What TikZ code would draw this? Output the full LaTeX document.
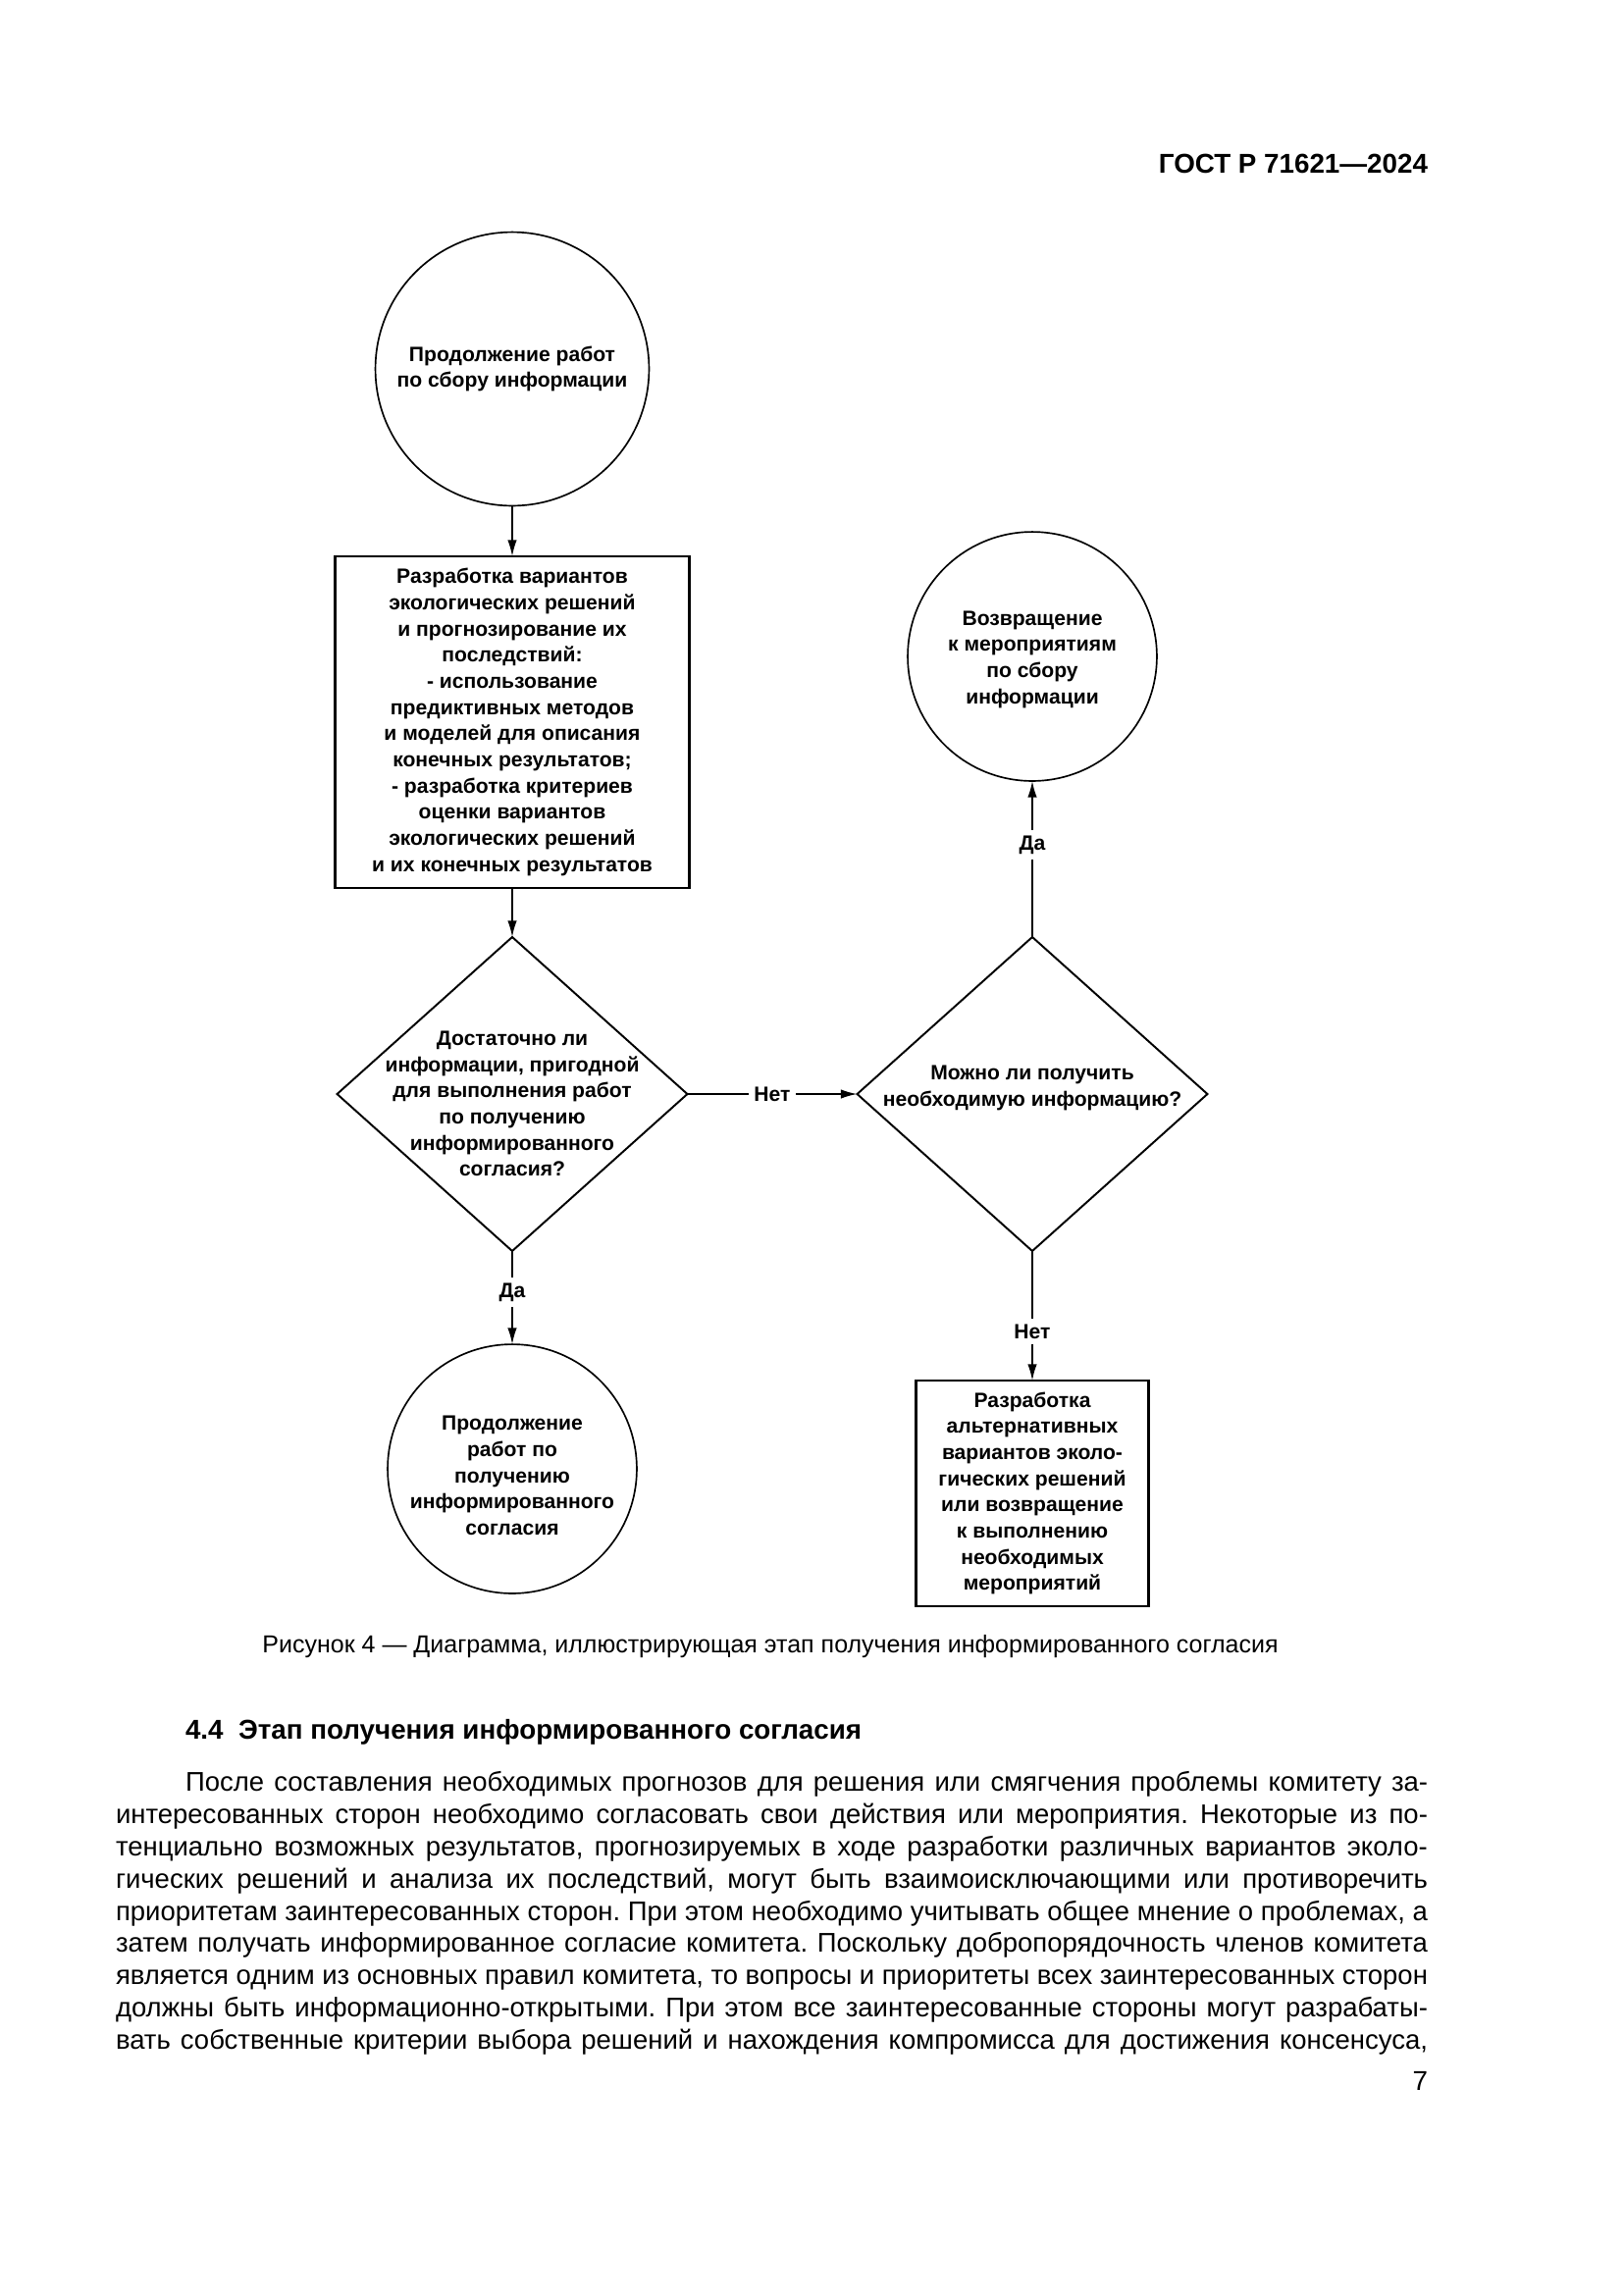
\documentclass[tikz,border=0pt]{standalone}
\usepackage{fontspec}
\setmainfont{Liberation Sans}
\usetikzlibrary{shapes.geometric,arrows.meta}
\frenchspacing
\begin{document}
\begin{tikzpicture}[x=0.36pt,y=-0.36pt,
 every node/.style={inner sep=0pt,outer sep=0pt},
 dfont/.style={font=\fontsize{7.6}{9.6}\selectfont\bfseries},
 roundnode/.style={circle,draw,line width=0.6pt,dfont,align=center,inner sep=1pt},
 boxnode/.style={rectangle,draw,line width=0.9pt,dfont,align=center},
 decnode/.style={diamond,draw,line width=0.7pt,minimum width=128.5pt,minimum height=115.2pt},
 dtext/.style={dfont,align=center},
 arr/.style={line width=0.6pt,-{Latex[length=6pt,width=3.4pt]}},
 lbl/.style={dfont,fill=white,inner sep=2pt},
 bodyline/.style={anchor=base west,font=\fontsize{9.9}{12}\selectfont},
]
\useasboundingbox[fill=white] (0,0) rectangle (1654,2339);

\node[anchor=east,font=\fontsize{10}{12}\selectfont\bfseries] (hdr) at (1455,167) {ГОСТ Р 71621—2024};

% nodes
\node[roundnode,minimum size=100.4pt] (c1) at (522,376) {Продолжение работ\\по сбору информации};
\node[boxnode,minimum width=130pt,minimum height=121.7pt] (b1) at (522,736)
 {Разработка вариантов\\экологических решений\\и прогнозирование их\\последствий:\\- использование\\предиктивных методов\\и моделей для описания\\конечных результатов;\\- разработка критериев\\оценки вариантов\\экологических решений\\и их конечных результатов};
\node[decnode] (d1) at (522,1115) {};
\node[dtext] (d1t) at (522,1125) {Достаточно ли\\информации, пригодной\\для выполнения работ\\по получению\\информированного\\согласия?};
\node[decnode] (d2) at (1052,1115) {};
\node[dtext] (d2t) at (1052,1109) {Можно ли получить\\необходимую информацию?};
\node[roundnode,minimum size=91.4pt] (c2) at (1052,669) {};
\node[dtext] (c2t) at (1052,672) {Возвращение\\к мероприятиям\\по сбору\\информации};
\node[roundnode,minimum size=91.4pt] (c3) at (522,1497) {};
\node[dtext] (c3t) at (522,1504) {Продолжение\\работ по\\получению\\информированного\\согласия};
\node[boxnode,minimum width=85.3pt,minimum height=82.8pt] (b2) at (1052,1522)
 {Разработка\\альтернативных\\вариантов эколо-\\гических решений\\или возвращение\\к выполнению\\необходимых\\мероприятий};

% connectors
\draw[arr] (c1.south) -- (b1.north);
\draw[arr] (b1.south) -- (d1.north);
\draw[arr] (d1.east) -- node[lbl] (l1) {Нет} (d2.west);
\draw[arr] (d2.north) -- node[lbl,pos=0.59] (l2) {Да} (c2.south);
\draw[arr] (d1.south) -- node[lbl,pos=0.44] (l3) {Да} (c3.north);
\draw[arr] (d2.south) -- node[lbl,pos=0.62] (l4) {Нет} (b2.north);

% caption and text
\node[font=\fontsize{9}{11}\selectfont] (cap) at (785,1678) {Рисунок 4 — Диаграмма, иллюстрирующая этап получения информированного согласия};
\node[anchor=base west,font=\fontsize{10}{12}\selectfont\bfseries] (sec) at (189,1772) {4.4\ \ Этап получения информированного согласия};

\node[bodyline] (t1) at (189,1825) {\makebox[455.8pt][s]{После составления необходимых прогнозов для решения или смягчения проблемы комитету за-}};
\node[bodyline] (t2) at (118,1858) {\makebox[481.3pt][s]{интересованных сторон необходимо согласовать свои действия или мероприятия. Некоторые из по-}};
\node[bodyline] (t3) at (118,1891) {\makebox[481.3pt][s]{тенциально возможных результатов, прогнозируемых в ходе разработки различных вариантов эколо-}};
\node[bodyline] (t4) at (118,1924) {\makebox[481.3pt][s]{гических решений и анализа их последствий, могут быть взаимоисключающими или противоречить}};
\node[bodyline] (t5) at (118,1957) {\makebox[481.3pt][s]{приоритетам заинтересованных сторон. При этом необходимо учитывать общее мнение о проблемах, а}};
\node[bodyline] (t6) at (118,1989) {\makebox[481.3pt][s]{затем получать информированное согласие комитета. Поскольку добропорядочность членов комитета}};
\node[bodyline] (t7) at (118,2022) {\makebox[481.3pt][s]{является одним из основных правил комитета, то вопросы и приоритеты всех заинтересованных сторон}};
\node[bodyline] (t8) at (118,2055) {\makebox[481.3pt][s]{должны быть информационно-открытыми. При этом все заинтересованные стороны могут разрабаты-}};
\node[bodyline] (t9) at (118,2088) {\makebox[481.3pt][s]{вать собственные критерии выбора решений и нахождения компромисса для достижения консенсуса,}};
\node[anchor=base east,font=\fontsize{10}{12}\selectfont] (pg) at (1455,2130) {7};
\end{tikzpicture}
\end{document}
